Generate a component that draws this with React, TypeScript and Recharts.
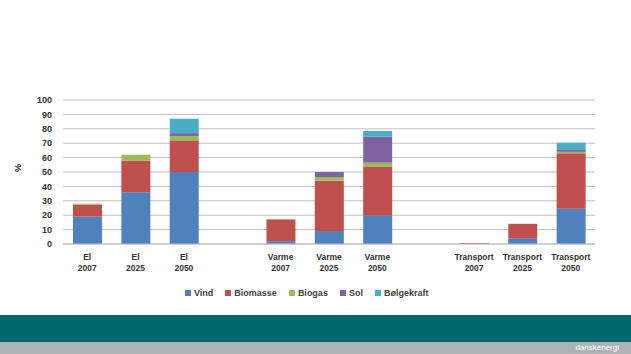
import { BarChart, Bar, XAxis, YAxis, CartesianGrid, Legend } from 'recharts'

const categories = ['El|2007', 'El|2025', 'El|2050', ' ', 'Varme|2007', 'Varme|2025', 'Varme|2050', '  ', 'Transport|2007', 'Transport|2025', 'Transport|2050']

const vind = [19, 36, 50, null, 2, 9, 20, null, 0, 4, 24.5]
const biomasse = [8.3, 22, 22, null, 15, 35, 33.5, null, 0.6, 10, 38.5]
const biogas = [0.7, 4, 3, null, 0.5, 2.5, 3, null, 0, 0, 1]
const sol = [0, 0, 2, null, 0, 3.5, 18, null, 0, 0, 1.3]
const boelgekraft = [0, 0, 10, null, 0, 0, 4, null, 0, 0, 5]

const yTicks = [0, 10, 20, 30, 40, 50, 60, 70, 80, 90, 100]

const series = [
  { key: 'Vind', values: vind, color: '#4F81BD' },
  { key: 'Biomasse', values: biomasse, color: '#C0504D' },
  { key: 'Biogas', values: biogas, color: '#9BBB59' },
  { key: 'Sol', values: sol, color: '#8064A2' },
  { key: 'Bølgekraft', values: boelgekraft, color: '#4BACC6' },
]
const seriesOrder = series.map((s) => s.key)

const data = categories.map((name, i) => {
  const row: any = { name }
  series.forEach((s) => {
    row[s.key] = s.values[i]
  })
  return row
})

const font = '"Liberation Sans", Arial, sans-serif'

const CategoryTick = ({ x, y, payload }: any) => {
  const parts = String(payload.value).trim().split('|')
  if (!parts[0]) return null
  return (
    <text x={x} y={y} textAnchor="middle" fontFamily={font} fontSize={8.5} fontWeight="bold" fill="#333">
      {parts.map((p: string, i: number) => (
        <tspan key={i} x={x} dy={i === 0 ? 8 : 11}>
          {p}
        </tspan>
      ))}
    </text>
  )
}

const LegendContent = ({ payload }: any) => {
  const items = [...(payload || [])].sort(
    (a: any, b: any) => seriesOrder.indexOf(a.value) - seriesOrder.indexOf(b.value)
  )
  return (
    <div style={{ display: 'flex', fontFamily: font, fontSize: 9, fontWeight: 'bold', color: '#404040' }}>
      {items.map((entry: any) => (
        <div key={entry.value} style={{ display: 'flex', alignItems: 'center', marginRight: 12 }}>
          <span style={{ width: 6, height: 6, background: entry.color, marginRight: 3, display: 'inline-block' }} />
          <span>{entry.value}</span>
        </div>
      ))}
    </div>
  )
}

export default function App() {
  return (
    <div style={{ position: 'absolute', left: 0, top: 0, width: 631, height: 354, background: '#fff', overflow: 'hidden' }}>
      <BarChart
        width={631}
        height={315}
        data={data}
        margin={{ top: 100, right: 36, left: 0, bottom: 41 }}
        barSize={29}
      >
        <CartesianGrid horizontal vertical={false} stroke="#BFBFBF" />
        <XAxis
          dataKey="name"
          height={30}
          tick={<CategoryTick />}
          tickLine={false}
          axisLine={{ stroke: '#BFBFBF' }}
          interval={0}
        />
        <YAxis
          width={63}
          domain={[0, 100]}
          ticks={yTicks}
          interval={0}
          axisLine={false}
          tickLine={false}
          tickMargin={5}
          tick={{ fontFamily: font, fontSize: 9, fontWeight: 'bold', fill: '#333' }}
          label={{ value: '%', angle: -90, position: 'insideLeft', offset: 18, style: { fontFamily: font, fontSize: 9, fontWeight: 'bold', fill: '#333' } }}
        />
        <Legend
          verticalAlign="middle"
          align="center"
          layout="horizontal"
          content={<LegendContent />}
          wrapperStyle={{ top: 288, left: 185, width: 300 }}
        />
        {series.map((s) => (
          <Bar key={s.key} dataKey={s.key} stackId="a" fill={s.color} isAnimationActive={false} />
        ))}
      </BarChart>
      <div style={{ position: 'absolute', left: 0, top: 315, width: 631, height: 27, background: '#00676A' }} />
      <div
        style={{
          position: 'absolute',
          left: 0,
          top: 342,
          width: 631,
          height: 12,
          background: '#B0B1B3',
          color: '#fff',
          fontFamily: font,
          fontSize: 8,
          lineHeight: '12px',
          textAlign: 'right',
          paddingRight: 12,
          boxSizing: 'border-box',
        }}
      >
        danskenergi
      </div>
    </div>
  )
}
